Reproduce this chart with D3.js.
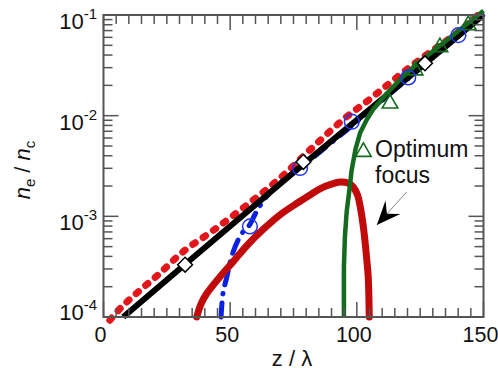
<!DOCTYPE html>
<html>
<head>
<meta charset="utf-8">
<script src="https://cdn.jsdelivr.net/npm/d3@7.9.0/dist/d3.min.js"></script>
<style>
  body { margin: 0; background: #fff; }
  svg { display: block; font-family: "Liberation Sans", Arial, sans-serif; }
</style>
</head>
<body>
<svg id="chart" width="498" height="378"></svg>
<script>
// ---- data (z in units of lambda, density n_e / n_c) ----
const blackZ = [7.8, 32, 79, 127, 149.5];
const blackN = [1e-4, 3.31e-4, 3.31e-3, 3.31e-2, 9.77e-2];

const redDotZ = [2.5, 7.2, 13.7, 21.6, 31.5, 43.3, 56.5, 69.7, 82.8, 95, 105, 113.8, 125, 140, 150];
const redDotN = [9.3e-5, 1.26e-4, 1.78e-4, 2.63e-4, 4.47e-4, 7.24e-4, 1.29e-3, 2.40e-3, 4.90e-3, 9.33e-3, 1.45e-2, 2.19e-2, 3.63e-2, 6.76e-2, 0.112];

const blueZ = [46.4, 47.2, 48.6, 51.1, 54.6, 57.8, 60, 64.4, 71, 80, 100, 125, 150];
const blueN = [1e-4, 1.74e-4, 2.45e-4, 4.37e-4, 6.76e-4, 8.32e-4, 1.07e-3, 1.58e-3, 2.29e-3, 3.39e-3, 8.71e-3, 2.95e-2, 0.1];

const focusZ = [36.8, 38.5, 40.7, 46, 51.2, 57, 63, 70, 77, 82, 86, 90, 93.4, 96.5, 98.6, 100.3, 101.3, 102.4, 103.2, 104, 104.5, 104.9];
const focusN = [1e-4, 1.35e-4, 1.70e-4, 2.51e-4, 3.55e-4, 5.25e-4, 7.41e-4, 1.05e-3, 1.38e-3, 1.66e-3, 1.91e-3, 2.09e-3, 2.19e-3, 2.14e-3, 1.95e-3, 1.62e-3, 1.26e-3, 8.5e-4, 5.75e-4, 3.55e-4, 2.51e-4, 1e-4];

const greenZ = [94.9, 94.9, 95.3, 96.0, 97.3, 97.9, 99.5, 101.3, 103.9, 106.4, 111.8, 118.2, 125, 135, 150];
const greenN = [1e-4, 3.16e-4, 6.31e-4, 1.12e-3, 2.04e-3, 2.82e-3, 4.68e-3, 6.76e-3, 9.12e-3, 1.15e-2, 1.66e-2, 2.45e-2, 3.47e-2, 5.50e-2, 0.110];

const circleZ = [57.8, 77.6, 98, 120.3, 140.1];
const circleN = [7.94e-4, 3.02e-3, 8.71e-3, 2.40e-2, 6.31e-2];

const diamondZ = [32.2, 78.9, 126.9];
const diamondN = [3.31e-4, 3.47e-3, 3.31e-2];

const triangleZ = [102.6, 113.1, 123, 132.8, 144];
const triangleN = [4.37e-3, 1.32e-2, 2.82e-2, 4.79e-2, 7.94e-2];

const xTicks = [0, 50, 100, 150];
const yDecades = [-4, -3, -2, -1];

const noteLines = ['Optimum', 'focus'];
const noteZ = 107.2;
const noteN = [3.89e-3, 2.13e-3];
const arrowZ = [119.7, 107.9];
const arrowN = [1.75e-3, 8.2e-4];

// ---- layout ----
const margin = { left: 103.5, right: 14.5, top: 15, bottom: 61 };
const width = 498, height = 378;
const svg = d3.select('#chart');

const x = d3.scaleLinear().domain([0, 150]).range([margin.left, width - margin.right]);
const y = d3.scaleLog().domain([1e-4, 1e-1]).range([height - margin.bottom, margin.top]);

const zip = (zs, ns) => zs.map((z, i) => [z, ns[i]]);
const line = d3.line().x(d => x(d[0])).y(d => y(d[1]));
const smooth = d3.line().x(d => x(d[0])).y(d => y(d[1])).curve(d3.curveCatmullRom);

// ---- curves ----
svg.append('path')
  .attr('d', smooth(zip(redDotZ, redDotN)))
  .attr('fill', 'none')
  .attr('stroke', '#e3161b')
  .attr('stroke-width', 7)
  .attr('stroke-linecap', 'round')
  .attr('stroke-dasharray', '3 9.5');

svg.append('path')
  .attr('d', smooth(zip(blueZ, blueN)))
  .attr('fill', 'none')
  .attr('stroke', '#0b22e0')
  .attr('stroke-width', 5)
  .attr('stroke-linecap', 'round')
  .attr('stroke-dasharray', '14 9 0.5 9');

svg.append('path')
  .attr('d', line(zip(blackZ, blackN)))
  .attr('fill', 'none')
  .attr('stroke', '#000')
  .attr('stroke-width', 6);

svg.append('path')
  .attr('d', smooth(zip(focusZ, focusN)))
  .attr('fill', 'none')
  .attr('stroke', '#c10a0a')
  .attr('stroke-width', 7)
  .attr('stroke-linejoin', 'round')
  .attr('stroke-linecap', 'round');

svg.append('path')
  .attr('d', line(zip(greenZ, greenN)))
  .attr('fill', 'none')
  .attr('stroke', '#146a1e')
  .attr('stroke-width', 4.5)
  .attr('stroke-linejoin', 'round');

// ---- markers ----
const sym = (type, size) => d3.symbol().type(type).size(size)();

svg.append('g').selectAll('path')
  .data(zip(triangleZ, triangleN))
  .join('path')
  .attr('transform', d => `translate(${x(d[0])},${y(d[1])})`)
  .attr('d', sym(d3.symbolTriangle, 105))
  .attr('fill', 'none')
  .attr('stroke', '#146a1e')
  .attr('stroke-width', 1.6);

svg.append('g').selectAll('path')
  .data(zip(circleZ, circleN))
  .join('path')
  .attr('transform', d => `translate(${x(d[0])},${y(d[1])})`)
  .attr('d', sym(d3.symbolCircle, 170))
  .attr('fill', 'none')
  .attr('stroke', '#1f35ee')
  .attr('stroke-width', 1.5);

svg.append('g').selectAll('path')
  .data(zip(diamondZ, diamondN))
  .join('path')
  .attr('transform', d => `translate(${x(d[0])},${y(d[1])}) rotate(45)`)
  .attr('d', sym(d3.symbolSquare, 110))
  .attr('fill', '#fff')
  .attr('stroke', '#000')
  .attr('stroke-width', 1.5);

// ---- frame and ticks (inward, all four sides) ----
const axisColor = '#555';
const x0 = x(0), x1 = x(150), y0 = y(1e-4), y1 = y(1e-1);
const ticks = svg.append('g').attr('stroke', axisColor).attr('stroke-width', 1.5);

const xMinor = d3.range(0, 151, 5);
xMinor.forEach(v => {
  const len = v % 50 === 0 ? 15 : 9;
  ticks.append('line').attr('x1', x(v)).attr('x2', x(v)).attr('y1', y0).attr('y2', y0 - len);
  ticks.append('line').attr('x1', x(v)).attr('x2', x(v)).attr('y1', y1).attr('y2', y1 + len);
});

const yTickVals = [];
yDecades.forEach(e => {
  for (let k = 1; k <= 9; k++) {
    if (e === -1 && k > 1) break;
    yTickVals.push({ v: k * Math.pow(10, e), major: k === 1 });
  }
});
yTickVals.forEach(t => {
  const len = t.major ? 15 : 9;
  ticks.append('line').attr('x1', x0).attr('x2', x0 + len).attr('y1', y(t.v)).attr('y2', y(t.v));
  ticks.append('line').attr('x1', x1).attr('x2', x1 - len).attr('y1', y(t.v)).attr('y2', y(t.v));
});

svg.append('rect')
  .attr('x', x0).attr('y', y1)
  .attr('width', x1 - x0).attr('height', y0 - y1)
  .attr('fill', 'none')
  .attr('stroke', axisColor)
  .attr('stroke-width', 2);

// ---- tick labels ----
svg.append('g').selectAll('text')
  .data(xTicks)
  .join('text')
  .attr('x', d => x(d) - 3)
  .attr('y', 342)
  .attr('text-anchor', 'middle')
  .attr('font-size', 21.5)
  .attr('fill', '#111')
  .text(d => d);

yDecades.forEach(e => {
  const t = svg.append('text')
    .attr('x', 97)
    .attr('y', y(Math.pow(10, e)) + (e === -4 ? 3 : 14))
    .attr('text-anchor', 'end')
    .attr('font-size', 22)
    .attr('fill', '#111');
  t.append('tspan').text('10');
  t.append('tspan').attr('dy', -10).attr('font-size', 15).text('-' + Math.abs(e));
});

// ---- axis titles ----
svg.append('text')
  .attr('x', 292).attr('y', 366)
  .attr('text-anchor', 'middle')
  .attr('font-size', 22)
  .attr('fill', '#111')
  .text('z / λ');

const yt = svg.append('text')
  .attr('transform', 'translate(30,170) rotate(-90)')
  .attr('text-anchor', 'middle')
  .attr('font-size', 22)
  .attr('fill', '#111');
yt.append('tspan').attr('font-style', 'italic').text('n');
yt.append('tspan').attr('font-size', 15).attr('dy', 5).text('e');
yt.append('tspan').attr('dy', -5).text(' / ');
yt.append('tspan').attr('font-style', 'italic').text('n');
yt.append('tspan').attr('font-size', 15).attr('dy', 5).text('c');

// ---- annotation ----
svg.append('g').selectAll('text')
  .data(noteLines)
  .join('text')
  .attr('x', x(noteZ))
  .attr('y', (d, i) => y(noteN[i]))
  .attr('font-size', 23)
  .attr('fill', '#111')
  .text(d => d);

const ax0 = x(arrowZ[0]), ay0 = y(arrowN[0]);
const ax1 = x(arrowZ[1]), ay1 = y(arrowN[1]);
svg.append('line')
  .attr('x1', ax0).attr('y1', ay0).attr('x2', ax1).attr('y2', ay1)
  .attr('stroke', '#888').attr('stroke-width', 1);
const ang = Math.atan2(ay1 - ay0, ax1 - ax0) * 180 / Math.PI;
svg.append('path')
  .attr('transform', `translate(${ax1},${ay1}) rotate(${ang})`)
  .attr('d', 'M0,0 L-24,-10 L-15,0 L-24,10 Z')
  .attr('fill', '#000');
</script>
</body>
</html>
